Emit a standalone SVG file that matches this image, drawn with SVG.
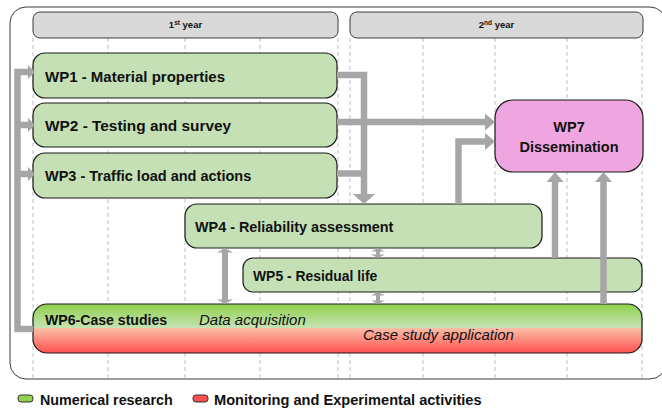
<svg xmlns="http://www.w3.org/2000/svg" width="662" height="409" viewBox="0 0 662 409">
<style>
.grid{stroke:#BFBFBF;stroke-width:1;stroke-dasharray:4,3;fill:none}
.hdr{fill:#D9D9D9;stroke:#3A3A3A;stroke-width:1}
.hdrt{font-family:"Liberation Sans",Arial,sans-serif;font-weight:bold;font-size:9.5px;fill:#111;text-anchor:middle}
.box{fill:#C5E0B4;stroke:#1A1A1A;stroke-width:1.2}
.lbl{font-family:"Liberation Sans",Arial,sans-serif;font-weight:bold;fill:#111}
.it{font-family:"Liberation Sans",Arial,sans-serif;font-style:italic;fill:#111;font-size:15px}
.ar{fill:none;stroke:#A6A6A6;stroke-width:6.5;stroke-linejoin:miter}
.ah{fill:#A6A6A6}
</style>
<defs>
<linearGradient id="g6" x1="0" y1="0" x2="0" y2="1">
<stop offset="0" stop-color="#8ED04C"/>
<stop offset="0.48" stop-color="#C6E2B2"/>
<stop offset="0.5" stop-color="#F9BDA6"/>
<stop offset="1" stop-color="#FF4F4F"/>
</linearGradient>
<marker id="ah" markerUnits="userSpaceOnUse" markerWidth="10" markerHeight="17" viewBox="0 0 10 17" refX="0" refY="8.5" orient="auto"><path d="M0,0 L10,8.5 L0,17 Z" class="ah"/></marker>
<marker id="ahL" markerUnits="userSpaceOnUse" markerWidth="10" markerHeight="22" viewBox="0 0 10 22" refX="0" refY="11" orient="auto"><path d="M0,0 L10,11 L0,22 Z" class="ah"/></marker>
<marker id="ahS" markerUnits="userSpaceOnUse" markerWidth="7" markerHeight="14" viewBox="0 0 7 14" refX="0" refY="7" orient="auto"><path d="M0,0 L7,7 L0,14 Z" class="ah"/></marker>
</defs>
<rect x="0" y="0" width="662" height="409" fill="#FFFFFF"/>
<!-- outer frame -->
<path d="M10,23 A16,16 0 0 1 26,7 H650 A16,16 0 0 1 666,23 V363 A16,16 0 0 1 650,379 H26 A16,16 0 0 1 10,363 Z" fill="none" stroke="#3A3A3A" stroke-width="1"/>
<!-- grid -->
<g id="grid">
<line class="grid" x1="33" y1="38" x2="33" y2="379"/>
<line class="grid" x1="108" y1="38" x2="108" y2="379"/>
<line class="grid" x1="185" y1="38" x2="185" y2="379"/>
<line class="grid" x1="260" y1="38" x2="260" y2="379"/>
<line class="grid" x1="338" y1="38" x2="338" y2="379"/>
<line class="grid" x1="350" y1="38" x2="350" y2="379"/>
<line class="grid" x1="423" y1="38" x2="423" y2="379"/>
<line class="grid" x1="495" y1="38" x2="495" y2="379"/>
<line class="grid" x1="567" y1="38" x2="567" y2="379"/>
<line class="grid" x1="642" y1="38" x2="642" y2="379"/>
</g>
<g id="year1">
<rect class="hdr" x="33" y="12" width="305" height="26" rx="7"/>
<text class="hdrt" x="185.5" y="28">1<tspan font-size="6.5" dy="-3.5">st</tspan><tspan dy="3.5"> year</tspan></text>
</g>
<g id="year2">
<rect class="hdr" x="350" y="12" width="293" height="26" rx="7"/>
<text class="hdrt" x="496.5" y="28">2<tspan font-size="6.5" dy="-3.5">nd</tspan><tspan dy="3.5"> year</tspan></text>
</g>
<g id="wp1">
<rect class="box" x="33" y="53" width="304" height="45" rx="12"/>
<text class="lbl" x="45" y="82" font-size="15">WP1 - Material properties</text>
</g>
<g id="wp2">
<rect class="box" x="33" y="103" width="304" height="44" rx="12"/>
<text class="lbl" x="45" y="131" font-size="15.4">WP2 - Testing and survey</text>
</g>
<g id="wp3">
<rect class="box" x="33" y="153" width="304" height="45" rx="12"/>
<text class="lbl" x="45" y="181" font-size="14.5">WP3 - Traffic load and actions</text>
</g>
<g id="wp7">
<rect x="495" y="100" width="148" height="72" rx="18" fill="#EFA6E0" stroke="#1A1A1A" stroke-width="1.2"/>
<text class="lbl" x="569" y="132" font-size="14.5" text-anchor="middle">WP7</text>
<text class="lbl" x="569" y="152" font-size="14.5" text-anchor="middle">Dissemination</text>
</g>
<g id="wp4">
<rect class="box" x="185" y="204" width="357" height="44" rx="12"/>
<text class="lbl" x="195" y="232" font-size="14.4">WP4 - Reliability assessment</text>
</g>
<g id="wp5">
<rect class="box" x="243" y="258" width="399" height="34" rx="10"/>
<text class="lbl" x="253" y="281" font-size="13.9">WP5 - Residual life</text>
</g>
<g id="wp6">
<rect x="33" y="304" width="609" height="49" rx="14" fill="url(#g6)" stroke="#1A1A1A" stroke-width="1.2"/>
<text class="lbl" x="45" y="325" font-size="14.1">WP6-Case studies</text>
<text class="it" x="199" y="325" font-size="15">Data acquisition</text>
<text class="it" x="363" y="340" font-size="15">Case study application</text>
</g>
<g id="connectors">
<!-- feedback loop from WP6 to WP1-3 -->
<path class="ar" d="M33,329 H17.5 V72 H28" marker-end="url(#ahS)"/>
<path class="ar" d="M17.5,125 H28" marker-end="url(#ahS)"/>
<path class="ar" d="M17.5,174 H28" marker-end="url(#ahS)"/>
<!-- WP1/WP3 to WP4 -->
<path class="ar" d="M337,75 H364 V194" marker-end="url(#ahL)"/>
<path class="ar" d="M337,173.5 H364"/>
<!-- WP2 to WP7 -->
<path class="ar" d="M337,122 H485" marker-end="url(#ah)"/>
<!-- WP4 to WP7 -->
<path class="ar" d="M458.5,204 V141.5 H485" marker-end="url(#ah)"/>
<!-- WP5 to WP7 -->
<path class="ar" d="M555,258 V182" marker-end="url(#ah)"/>
<!-- WP6 to WP7 -->
<path class="ar" d="M603.5,304 V182" marker-end="url(#ah)"/>
<!-- WP4 <-> WP6 -->
<rect x="222" y="252" width="6" height="48" class="ah"/>
<path class="ah" d="M225,248 L233,252.5 L217,252.5 Z"/>
<path class="ah" d="M225,304 L233,299.5 L217,299.5 Z"/>
<!-- WP4 <-> WP5 -->
<rect x="376" y="251" width="4" height="4" class="ah"/>
<path class="ah" d="M378,248 L385,251.5 L371,251.5 Z"/>
<path class="ah" d="M378,258 L385,254.5 L371,254.5 Z"/>
<!-- WP5 <-> WP6 -->
<rect x="376" y="295" width="4" height="6" class="ah"/>
<path class="ah" d="M378,292 L385,295.5 L371,295.5 Z"/>
<path class="ah" d="M378,304 L385,300.5 L371,300.5 Z"/>
</g>
<g id="legend">
<rect x="18" y="395" width="15" height="7" rx="3" fill="#92D050" stroke="#333" stroke-width="1"/>
<text class="lbl" x="40" y="405" font-size="14.3">Numerical research</text>
<rect x="193" y="395" width="15" height="7" rx="3" fill="#FF5050" stroke="#333" stroke-width="1"/>
<text class="lbl" x="214" y="405" font-size="14.6">Monitoring and Experimental activities</text>
</g>
</svg>
